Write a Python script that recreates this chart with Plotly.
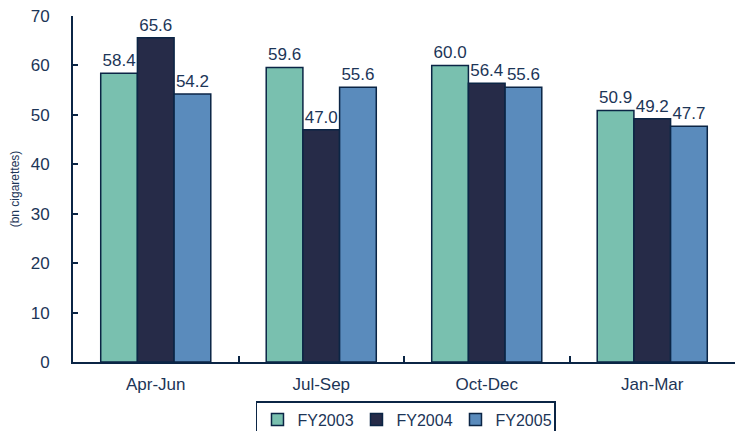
import plotly.graph_objects as go

categories = ["Apr-Jun", "Jul-Sep", "Oct-Dec", "Jan-Mar"]
fy2003 = [58.4, 59.6, 60.0, 50.9]
fy2004 = [65.6, 47.0, 56.4, 49.2]
fy2005 = [54.2, 55.6, 55.6, 47.7]
series_names = ["FY2003", "FY2004", "FY2005"]
colors = ["#79C0AF", "#262B48", "#5A8BBC"]

NAVY = "#0B2545"
TXT = "#1C3557"
FONT = "Liberation Sans, Arial, sans-serif"

fig = go.Figure()
for name, vals, col in zip(series_names, [fy2003, fy2004, fy2005], colors):
    fig.add_trace(go.Bar(
        x=categories, y=vals, name=name,
        marker=dict(color=col, line=dict(color=NAVY, width=1.5)),
        text=[f"{v:.1f}" for v in vals], textposition="outside",
        textfont=dict(family=FONT, size=17, color=TXT),
        cliponaxis=False,
    ))

fig.update_layout(
    width=735, height=431,
    margin=dict(l=73, r=0, t=16, b=69, autoexpand=False),
    barmode="group", bargap=0.335, bargroupgap=0,
    plot_bgcolor="white", paper_bgcolor="white",
    font=dict(family=FONT, size=17, color=TXT),
    showlegend=True,
    legend=dict(
        orientation="h", x=0.503, xanchor="center", y=-0.113, yanchor="top",
        bordercolor=NAVY, borderwidth=1.5, font=dict(size=16, color=TXT),
        itemwidth=30, tracegroupgap=0, entrywidth=54,
    ),
)
fig.update_xaxes(
    type="category", showline=True, linecolor=NAVY, linewidth=2,
    ticks="inside", tickson="boundaries", ticklen=6, tickcolor=NAVY, tickwidth=2,
    showgrid=False, tickfont=dict(size=17, color=TXT), automargin=False,
    ticklabelstandoff=6,
)
fig.update_yaxes(
    range=[0, 70], dtick=10, showline=True, linecolor=NAVY, linewidth=2,
    ticks="inside", ticklen=5, tickcolor=NAVY, tickwidth=2,
    showgrid=False, zeroline=False, tickfont=dict(size=17, color=TXT),
    ticklabelstandoff=18, automargin=False,
    title=dict(text="(bn cigarettes)", font=dict(size=12, color=TXT), standoff=8),
)
fig.write_html(
    "out.html",
    config={"displayModeBar": False},
    post_script="document.body.style.margin='0';document.body.style.overflow='hidden';",
)
